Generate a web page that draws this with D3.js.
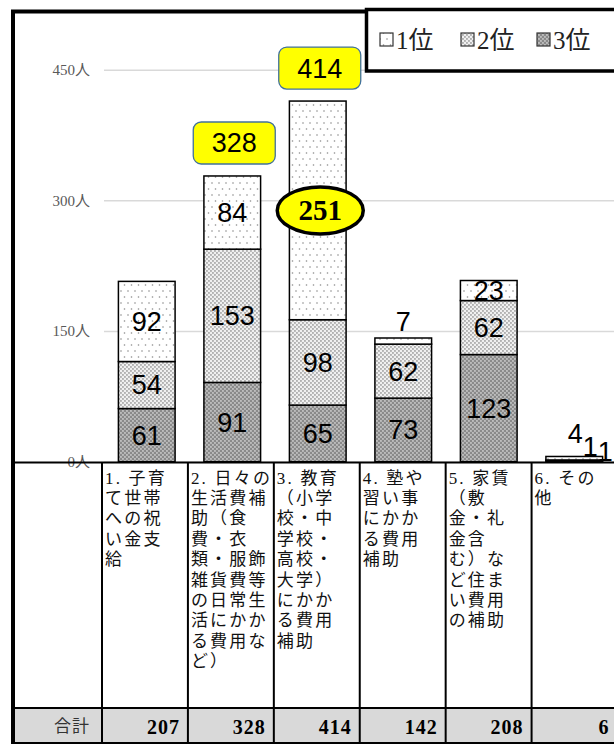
<!DOCTYPE html>
<html><head><meta charset="utf-8">
<script src="https://cdn.jsdelivr.net/npm/d3@7"></script>
<style>body{margin:0;background:#fff}svg{display:block}</style>
</head><body><svg id="c" width="614" height="744"></svg>
<script>
// ---- data ----
const categories = ["子育て世帯への祝い金支給","日々の生活費補助","教育費用補助","塾や習い事費用補助","住まい費用補助","その他"];
const categoryLines = [
  ["1. 子育","て世帯","への祝","い金支","給"],
  ["2. 日々の","生活費補","助（食","費・衣","類・服飾","雑貨費等","の日常生","活にかか","る費用な","ど）"],
  ["3. 教育","（小学","校・中","学校・","高校・","大学）","にかか","る費用","補助"],
  ["4. 塾や","習い事","にかか","る費用","補助"],
  ["5. 家賃","（敷","金・礼","金含","む）な","ど住ま","い費用","の補助"],
  ["6. その","他"]
];
const rank1 = [92, 84, 251, 7, 23, 4];
const rank2 = [54, 153, 98, 62, 62, 1];
const rank3 = [61, 91, 65, 73, 123, 1];
const totals = [207, 328, 414, 142, 208, 6];
const yTicks = [0, 150, 300, 450];
const legendLabels = ["1位", "2位", "3位"];
const totalRowLabel = "合計";
const boxedTotals = [false, true, true, false, false, false];
const circledRank1 = [false, false, true, false, false, false];

// ---- setup ----
const svg = d3.select("#c");
const W = 614, H = 744;
const y = d3.scaleLinear().domain([0, 450]).range([461.7, 69.7]);
const x = d3.scaleBand().domain(categories).range([104, 617]).paddingInner(0.337).paddingOuter(0.1685);
const col = d3.scaleBand().domain(categories).range([102, 617.5]);
const SERIF = "'Liberation Serif','Noto Sans CJK JP',serif";
const SANS = "'Liberation Sans',Arial,sans-serif";
const CJK = "'Liberation Serif','Noto Sans CJK JP',sans-serif";

const defs = svg.append("defs");
const p1 = defs.append("pattern").attr("id","p1").attr("patternUnits","userSpaceOnUse").attr("width",7).attr("height",12);
p1.append("rect").attr("width",7).attr("height",12).attr("fill","#fff");
p1.append("circle").attr("cx",2).attr("cy",3).attr("r",0.8).attr("fill","#8a8a8a");
p1.append("circle").attr("cx",5.5).attr("cy",9).attr("r",0.8).attr("fill","#8a8a8a");
const p2 = defs.append("pattern").attr("id","p2").attr("patternUnits","userSpaceOnUse").attr("width",4).attr("height",4);
p2.append("rect").attr("width",4).attr("height",4).attr("fill","#f0f0f0");
p2.append("rect").attr("x",0.2).attr("y",0.2).attr("width",1.5).attr("height",1.5).attr("fill","#8f8f8f");
p2.append("rect").attr("x",2.2).attr("y",2.2).attr("width",1.5).attr("height",1.5).attr("fill","#8f8f8f");
const p3 = defs.append("pattern").attr("id","p3").attr("patternUnits","userSpaceOnUse").attr("width",4).attr("height",4);
p3.append("rect").attr("width",4).attr("height",4).attr("fill","#8a8a8a");
p3.append("rect").attr("x",0.2).attr("y",0.2).attr("width",1.5).attr("height",1.5).attr("fill","#d9d9d9");
p3.append("rect").attr("x",2.2).attr("y",2.2).attr("width",1.5).attr("height",1.5).attr("fill","#d9d9d9");
const fills = {rank1:"url(#p1)", rank2:"url(#p2)", rank3:"url(#p3)"};

svg.append("rect").attr("width",W).attr("height",H).attr("fill","#fff");

// ---- y axis / grid ----
const yAxis = d3.axisLeft(y).tickValues(yTicks).tickFormat(d => d + "人").tickSize(-(W - 104)).tickPadding(14);
const ga = svg.append("g").attr("transform","translate(104,0)").call(yAxis);
ga.select(".domain").remove();
ga.selectAll(".tick line").attr("stroke","#d9d9d9").attr("stroke-width",1.5);
ga.selectAll(".tick text").attr("font-family",SERIF).attr("font-size",15).attr("fill","#595959");

// ---- bars ----
const rows = categories.map((c,i) => ({cat:c, rank1:rank1[i], rank2:rank2[i], rank3:rank3[i], i}));
const keys = ["rank3","rank2","rank1"];
const series = d3.stack().keys(keys)(rows);
const gb = svg.append("g");
series.forEach(s => {
  gb.selectAll(null).data(s).enter().append("rect")
    .attr("x", d => x(d.data.cat))
    .attr("y", d => y(d[1]))
    .attr("width", x.bandwidth())
    .attr("height", d => y(d[0]) - y(d[1]))
    .attr("fill", fills[s.key])
    .attr("stroke","#000").attr("stroke-width",1.5);
});

// ---- segment labels ----
const gl = svg.append("g");
const cascade = [[1,-23],[16,-10],[31,-5]];
rows.forEach((r,i) => {
  const cx = x(r.cat) + x.bandwidth()/2;
  const top = y(totals[i]);
  const small = [];
  ["rank1","rank2","rank3"].forEach(k => {
    const s = series.find(q => q.key === k)[i];
    const h = y(s[0]) - y(s[1]);
    if (h < 16) { small.push(s[1]-s[0]); return; }
    const cy = (y(s[0]) + y(s[1]))/2;
    if (k === "rank1" && circledRank1[i]) {
      gl.append("ellipse").attr("cx",cx+2.5).attr("cy",cy).attr("rx",43).attr("ry",23.5)
        .attr("fill","#ffff00").attr("stroke","#000").attr("stroke-width",3.5);
      gl.append("text").attr("x",cx+2.5).attr("y",cy).attr("dy","0.34em").attr("text-anchor","middle")
        .attr("font-family",SERIF).attr("font-weight","bold").attr("font-size",29).text(s[1]-s[0]);
    } else {
      gl.append("text").attr("x",cx).attr("y",cy).attr("dy","0.35em").attr("text-anchor","middle")
        .attr("font-family",SANS).attr("font-size",27).text(s[1]-s[0]);
    }
  });
  if (small.length === 1) {
    gl.append("text").attr("x",cx).attr("y",top-16).attr("dy","0.35em").attr("text-anchor","middle")
      .attr("font-family",SANS).attr("font-size",27).text(small[0]);
  } else {
    small.forEach((v,k) => {
      gl.append("text").attr("x",cx+cascade[k][0]).attr("y",top+cascade[k][1]).attr("dy","0.35em").attr("text-anchor","middle")
        .attr("font-family",SANS).attr("font-size",27).text(v);
    });
  }
  if (boxedTotals[i]) {
    const bw = 82, bh = 42;
    gl.append("rect").attr("x",cx+2-bw/2).attr("y",top-12-bh).attr("width",bw).attr("height",bh).attr("rx",8)
      .attr("fill","#ffff00").attr("stroke","#41719c").attr("stroke-width",1.3);
    gl.append("text").attr("x",cx+2).attr("y",top-12-bh/2).attr("dy","0.35em").attr("text-anchor","middle")
      .attr("font-family",SANS).attr("font-size",27).text(totals[i]);
  }
});

// ---- table ----
const tTop = 462.5, tRow = 708, tBot = 743;
const gt = svg.append("g");
gt.append("rect").attr("x",13).attr("y",tRow).attr("width",W-13).attr("height",tBot-tRow).attr("fill","#d9d9d9");
categories.forEach((c,i) => {
  const lines = categoryLines[i];
  const compact = d3.max(lines, l => l.length) >= 5;
  const fs = compact ? 17 : 20, ls = compact ? 2.2 : 3.6, pitch = compact ? 20.4 : 24.7;
  const y0 = compact ? 478 : 479.5;
  lines.forEach((l,j) => {
    gt.append("text").attr("x",col(c)+3).attr("y",y0 + j*pitch).attr("dominant-baseline","central")
      .style("font-family",CJK).style("font-size",fs+"px").style("letter-spacing",ls+"px").attr("fill","#111").text(l);
  });
  gt.append("text").attr("x",col(c)+col.bandwidth()-8).attr("y",(tRow+tBot)/2+1).attr("dy","0.35em")
    .attr("text-anchor","end").attr("font-family",SERIF).attr("font-weight","bold").attr("font-size",20)
    .attr("letter-spacing",1).text(totals[i]);
});
gt.append("text").attr("x",90).attr("y",(tRow+tBot)/2+1).attr("dominant-baseline","central").attr("text-anchor","end")
  .attr("font-family",CJK).attr("font-size",17).attr("letter-spacing",1).attr("fill","#333").text(totalRowLabel);
[tTop, tRow, tBot].forEach(v => gt.append("line").attr("x1",13).attr("x2",W).attr("y1",v).attr("y2",v).attr("stroke","#000").attr("stroke-width",2));
categories.forEach(c => gt.append("line").attr("x1",col(c)).attr("x2",col(c)).attr("y1",tTop).attr("y2",tBot).attr("stroke","#000").attr("stroke-width",2));

// ---- frame ----
svg.append("path").attr("d",`M13,${H} L13,11.5 L${W},11.5`).attr("fill","none").attr("stroke","#000").attr("stroke-width",4);

// ---- legend ----
const lg = svg.append("g");
lg.append("rect").attr("x",366.5).attr("y",9.5).attr("width",300).attr("height",61.5).attr("fill","#fff").attr("stroke","#000").attr("stroke-width",3.5);
const legX = [380, 461, 537];
legendLabels.forEach((t,k) => {
  lg.append("rect").attr("x",legX[k]).attr("y",33).attr("width",13).attr("height",13)
    .attr("fill",fills[keys[2-k]]).attr("stroke","#333").attr("stroke-width",1.2);
  lg.append("text").attr("x",legX[k]+16).attr("y",40).attr("dominant-baseline","central")
    .attr("font-family",CJK).attr("font-size",25).attr("fill","#222").text(t);
});
</script></body></html>
